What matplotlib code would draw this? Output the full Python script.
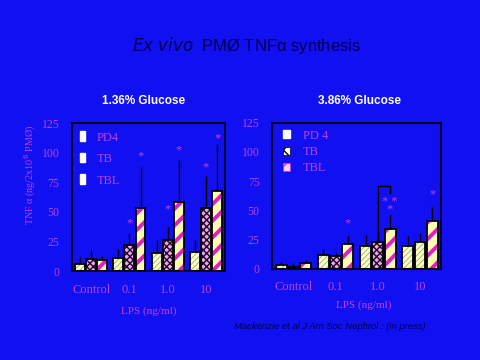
import matplotlib
matplotlib.use("Agg")
import matplotlib.pyplot as plt
import numpy as np
from matplotlib.patches import Patch

groups = ["Control", "0.1", "1.0", "10"]
series = ["PD4", "TB", "TBL"]
series_r = ["PD 4", "TB", "TBL"]

# 1.36% glucose
left_vals = {"PD4": [6, 11, 15, 16], "TB": [10, 22, 26, 53], "TBL": [9, 53, 58, 68]}
left_err = {"PD4": [6, 8, 11, 10], "TB": [8, 10, 11, 27], "TBL": [4, 35, 36, 39]}
# stars: (group, series index, y, text)
left_stars = [(1, 1, 40, "*"), (1, 2, 97, "*"), (2, 1, 52, "*"), (2, 2, 102, "*"),
              (3, 1, 88, "*"), (3, 2, 112, "*")]

# 3.86% glucose
right_vals = {"PD4": [3, 12, 20, 20], "TB": [2, 11, 23, 23], "TBL": [5, 21, 34, 41]}
right_err = {"PD4": [3, 5, 9, 8], "TB": [3, 3, 8, 8], "TBL": [3, 7, 12, 12]}
right_stars = [(1, 2, 39, "*"), (2, 2, 54, "* *\n*"), (3, 2, 64, "*")]
# right TB bar at 10 uses light pattern
right_tb_light = [False, False, False, True]

BG = "#1010f0"
MAG = "#c040e0"
NAVY = "#000050"

fig = plt.figure(figsize=(4.8, 3.6), dpi=100)
fig.patch.set_facecolor(BG)

styles = {
    "PD4": dict(face="#ffffc8", hatch="//////", hc="#90b070", lw=0.6),
    "TB": dict(face="#e8a8e8", hatch="xxxxx", hc="#200020", lw=1.0),
    "TBL": dict(face="#ffffb0", hatch="//", hc="#e020c0", lw=2.8),
}

def draw_panel(ax, vals, errs, width, offset, tb_light=None):
    x = np.arange(len(groups))
    for i, s in enumerate(series):
        xs = x + (i - 1) * offset
        for j in range(len(groups)):
            st = styles[s]
            if s == "TB" and tb_light is not None and tb_light[j]:
                st = styles["PD4"]
            plt.rcParams["hatch.linewidth"] = st["lw"]
            ax.bar(xs[j], vals[s][j], width, color=st["face"], edgecolor=st["hc"],
                   hatch=st["hatch"], linewidth=0, zorder=2)
            ax.bar(xs[j], vals[s][j], width, fill=False, edgecolor="black",
                   linewidth=1.3, zorder=3)
        ax.errorbar(xs, vals[s], yerr=[np.zeros(len(groups)), errs[s]], fmt="none",
                    ecolor="black", elinewidth=1.0, capsize=0, zorder=1)
    ax.set_xlim(-0.5, 3.5)
    ax.set_ylim(0, 125)
    ax.set_yticks([0, 25, 50, 75, 100, 125])
    ax.set_xticks(x)
    ax.set_xticklabels(groups)
    ax.set_facecolor(BG)
    for sp in ax.spines.values():
        sp.set_color("#000030")
        sp.set_linewidth(1.5)
    ax.tick_params(axis="both", length=0, colors=MAG, labelsize=8.5)
    ax.tick_params(axis="x", pad=9, labelsize=9)
    ax.tick_params(axis="y", pad=9)
    for lab in ax.get_xticklabels() + ax.get_yticklabels():
        lab.set_family("Liberation Serif")
        lab.set_color(MAG)

axL = fig.add_axes([0.15, 0.247, 0.319, 0.411])
draw_panel(axL, left_vals, left_err, 0.26, 0.29)
for g, si, y, t in left_stars:
    axL.text(g + (si - 1) * 0.29, y, t, color=MAG, ha="center", va="center",
             fontsize=9, family="Liberation Serif", zorder=4)

axR = fig.add_axes([0.567, 0.253, 0.352, 0.406])
draw_panel(axR, right_vals, right_err, 0.26, 0.29, tb_light=right_tb_light)
for g, si, y, t in right_stars:
    axR.text(g + (si - 1) * 0.29, y, t, color=MAG, ha="center", va="center",
             fontsize=9, family="Liberation Serif", zorder=4, linespacing=0.55,
             multialignment="center")
# bracket between TB and TBL at 1.0
bx0, bx1 = 2, 2 + 0.29
axR.plot([bx0, bx0, bx1, bx1], [23, 71, 71, 65], color="black", lw=1.0, zorder=4)

# legends
def legend(ax, labels, loc_xy, small_square, spacing, hl, hh):
    handles = []
    for s, lab in zip(series, labels):
        if small_square:
            plt.rcParams["hatch.linewidth"] = 1.0
            if s == "PD4":
                handles.append(Patch(facecolor="white", edgecolor="white", label=lab))
            elif s == "TB":
                handles.append(Patch(facecolor="white", edgecolor="black", hatch="xx",
                                     linewidth=0.5, label=lab))
            else:
                handles.append(Patch(facecolor="#ffd0ff", edgecolor="#e020c0", hatch="//",
                                     linewidth=0.5, label=lab))
        else:
            handles.append(Patch(facecolor="white", edgecolor="white", label=lab))
    leg = ax.legend(handles=handles, loc="upper left", bbox_to_anchor=loc_xy,
                    frameon=False, handlelength=hl, handleheight=hh,
                    handletextpad=1.0, labelspacing=spacing,
                    prop={"family": "Liberation Serif", "size": 9})
    for t in leg.get_texts():
        t.set_color(MAG)

legend(axL, series, (-0.02, 1.02), False, 0.75, 0.35, 0.8)
legend(axR, series_r, (0.0, 1.03), True, 0.35, 0.55, 0.6)

axL.text(-0.27, 0.65, "TNF α (ng/2x10$^6$ PMØ)", transform=axL.transAxes, rotation=90,
         ha="center", va="center", color=MAG, fontsize=7.3, family="Liberation Serif")

axL.text(0.5, -0.27, "LPS (ng/ml)", transform=axL.transAxes, ha="center", va="center",
         color=MAG, fontsize=8, family="Liberation Serif")
axR.text(0.54, -0.25, "LPS (ng/ml)", transform=axR.transAxes, ha="center", va="center",
         color=MAG, fontsize=8, family="Liberation Serif")

fig.text(0.30, 0.72, "1.36% Glucose", color="white", fontweight="bold", fontsize=8.5,
         ha="center", va="center", family="Liberation Sans")
fig.text(0.75, 0.72, "3.86% Glucose", color="white", fontweight="bold", fontsize=8.5,
         ha="center", va="center", family="Liberation Sans")

fig.text(0.513, 0.875, r"$\it{Ex\ vivo}$  PMØ TNFα synthesis", color=NAVY, fontsize=12,
         ha="center", va="center", family="Liberation Sans")

fig.text(0.6875, 0.092, "Mackenzie et al J Am Soc Nephrol : (in press)", color=NAVY,
         fontsize=6.8, style="italic", ha="center", va="center", family="Liberation Sans")

fig.savefig("out.png", dpi=100, facecolor=BG)
